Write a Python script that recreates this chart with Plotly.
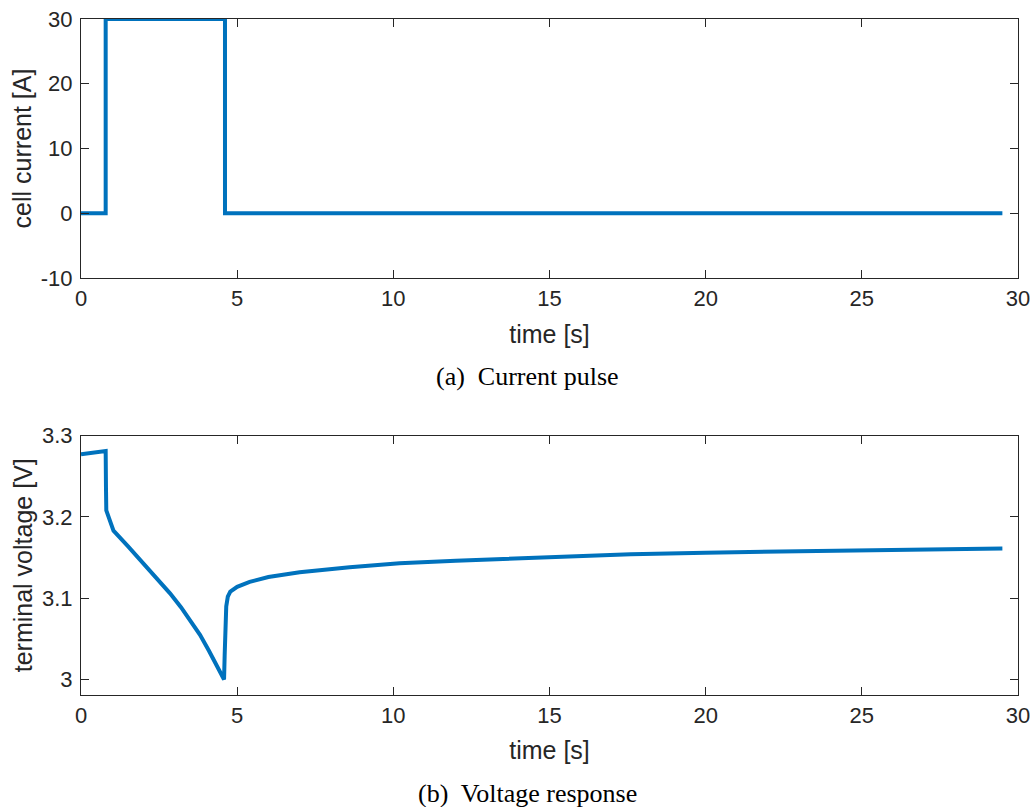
import plotly.graph_objects as go

# Current pulse data
t_current = [0, 0.79, 0.79, 4.61, 4.61, 29.5]
current = [0, 0, 30, 30, 0, 0]

# Voltage response data
t_voltage = [0, 0.4, 0.79, 0.80, 0.81, 0.9, 0.97, 1.04, 1.5, 2.0, 2.5, 2.85, 3.2, 3.5,
             3.81, 4.1, 4.35, 4.58, 4.60, 4.62, 4.65, 4.70, 4.78, 5.0, 5.4, 6.0, 7.0, 8.6,
             10.2, 12.0, 13.4, 15.0, 17.6, 20.0, 22.4, 25.0, 27.0, 29.5]
voltage = [3.277, 3.279, 3.281, 3.235, 3.208, 3.198, 3.189, 3.183, 3.164, 3.143, 3.122,
           3.106, 3.089, 3.073, 3.055, 3.035, 3.017, 3.000, 3.030, 3.066, 3.090, 3.102,
           3.108, 3.114, 3.120, 3.126, 3.132, 3.138, 3.143, 3.146, 3.148, 3.151, 3.154,
           3.156, 3.157, 3.159, 3.160, 3.161]

x_ticks = [0, 5, 10, 15, 20, 25, 30]
current_ticks = [-10, 0, 10, 20, 30]
current_tick_text = ["-10", "0", "10", "20", "30"]
voltage_ticks = [3.0, 3.1, 3.2, 3.3]
voltage_tick_text = ["3", "3.1", "3.2", "3.3"]

W, H = 1033, 807
line_color = "#0072BD"
axis_color = "#262626"
font_family = "Liberation Sans, Arial, sans-serif"


def px(x):
    return x / W


def py(y):
    return 1 - y / H


fig = go.Figure()
fig.add_trace(go.Scatter(x=t_current, y=current, mode="lines",
                         line=dict(color=line_color, width=4),
                         xaxis="x", yaxis="y", showlegend=False))
fig.add_trace(go.Scatter(x=t_voltage, y=voltage, mode="lines",
                         line=dict(color=line_color, width=4),
                         xaxis="x2", yaxis="y2", showlegend=False))

xdom = [px(81), px(1018)]
ydom_top = [py(278), py(19)]
ydom_bot = [py(695), py(435.5)]

common_axis = dict(showline=True, linecolor=axis_color, linewidth=1, mirror="ticks",
                   ticks="inside", ticklen=8, tickcolor=axis_color, tickwidth=1,
                   showgrid=False, zeroline=False, automargin=False,
                   ticklabeloverflow="allow",
                   tickfont=dict(family=font_family, size=22, color=axis_color),
                   title_font=dict(family=font_family, size=25, color=axis_color))

fig.update_layout(
    width=W, height=H,
    margin=dict(l=0, r=0, t=0, b=0),
    paper_bgcolor="white", plot_bgcolor="white",
    xaxis=dict(domain=xdom, anchor="y", range=[0, 30], tickvals=x_ticks,
               ticklabelstandoff=1,
               title=dict(text="time [s]", standoff=15), **common_axis),
    yaxis=dict(domain=ydom_top, anchor="x", range=[-10, 30], tickvals=current_ticks,
               ticktext=current_tick_text, ticklabelstandoff=3,
               title=dict(text="cell current [A]", standoff=2), **common_axis),
    xaxis2=dict(domain=xdom, anchor="y2", range=[0, 30], tickvals=x_ticks,
                ticklabelstandoff=1,
                title=dict(text="time [s]", standoff=14), **common_axis),
    yaxis2=dict(domain=ydom_bot, anchor="x2", range=[2.981, 3.3], tickvals=voltage_ticks,
                ticktext=voltage_tick_text, ticklabelstandoff=3,
                title=dict(text="terminal voltage [V]", standoff=2), **common_axis),
)

caption_font = dict(family="Liberation Serif, Times New Roman, serif", size=26, color="black")
fig.add_annotation(text="(a)  Current pulse", x=px(527), y=py(376), xref="paper", yref="paper",
                   showarrow=False, xanchor="center", yanchor="middle", font=caption_font)
fig.add_annotation(text="(b)  Voltage response", x=px(527), y=py(793), xref="paper", yref="paper",
                   showarrow=False, xanchor="center", yanchor="middle", font=caption_font)

# remove the default 8px page margin so the figure fills the window exactly
fig.write_html("out.html", config={"displayModeBar": False},
               post_script="document.body.style.margin='0';document.body.style.overflow='hidden';")
